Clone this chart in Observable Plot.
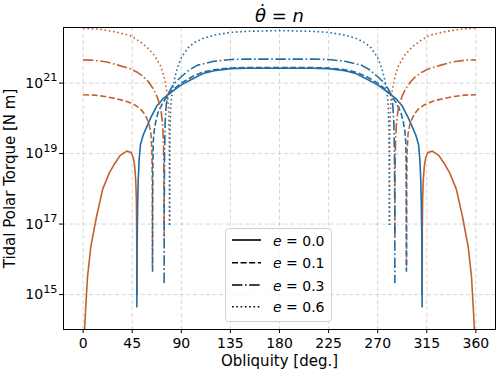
<!DOCTYPE html>
<html><head><meta charset="utf-8">
<script src="https://cdn.jsdelivr.net/npm/d3@7"></script>
<script src="https://cdn.jsdelivr.net/npm/@observablehq/plot@0.6"></script>
<style>
body{margin:0;background:#fff;font-family:"DejaVu Sans",sans-serif;}
#wrap{position:relative;width:498px;height:374px;overflow:hidden;}
#legend{position:absolute;left:225px;top:228px;}
</style></head><body><div id="wrap"></div>
<script>
// Eccentricities shown
const eValues = [0.0, 0.1, 0.3, 0.6];
const eLabels = ["0.0", "0.1", "0.3", "0.6"];

// Tick values
const xTicks = [0, 45, 90, 135, 180, 225, 270, 315, 360];
const yTickExponents = [15, 17, 19, 21];

// Curves: [obliquity (deg), log10 |torque| (N m)]
// Negative torque branches (orange)
const neg_e00_left = [[0.8,13.3],[1.3,14.0],[2.5,14.7],[4,15.5],[7,16.35],[12.2,17.2],[18,18.0],[24,18.45],[29,18.72],[34,18.95],[40,19.07],[44,19.03],[46,18.88],[47.2,18.65],[48.2,18.25],[48.8,17.7],[49.1,16.8],[49.2,15.0]];
const neg_e00_right = [[310.8,15.0],[310.9,16.8],[311.2,17.7],[311.8,18.25],[312.8,18.65],[314,18.88],[316,19.03],[320,19.07],[326,18.95],[331,18.72],[336,18.45],[342,18.0],[347.8,17.2],[353,16.35],[356,15.5],[357.5,14.7],[358.7,14.0],[359.2,13.3]];
const neg_e01_left = [[0,20.67],[10,20.66],[20,20.62],[30,20.56],[38,20.5],[43,20.44],[48,20.37],[52.4,20.27],[56,20.14],[58.5,19.99],[60.5,19.82],[62.2,19.55],[63,19.1],[63.4,18.2],[63.55,15.8]];
const neg_e01_right = [[296.45,15.8],[296.6,18.2],[297,19.1],[297.8,19.55],[299.5,19.82],[301.5,19.99],[304,20.14],[307.6,20.27],[312,20.37],[317,20.44],[322,20.5],[330,20.56],[340,20.62],[350,20.66],[360,20.67]];
const neg_e03_left = [[0,21.66],[10,21.65],[21.7,21.6],[32,21.51],[43,21.41],[50,21.3],[55.5,21.18],[60,21.03],[64.5,20.83],[67.5,20.64],[69.5,20.46],[71.5,20.2],[72.8,19.85],[73.7,19.3],[74.1,18.3],[74.2,16.64]];
const neg_e03_right = [[285.8,16.64],[285.9,18.3],[286.3,19.3],[287.2,19.85],[288.5,20.2],[290.5,20.46],[292.5,20.64],[295.5,20.83],[300,21.03],[304.5,21.18],[310,21.3],[317,21.41],[328,21.51],[338.3,21.6],[350,21.65],[360,21.66]];
const neg_e06_left = [[0,22.56],[15,22.53],[30,22.45],[43,22.35],[52,22.18],[58.5,22.02],[65,21.8],[70.8,21.5],[74,21.2],[75.8,20.95],[77.5,20.6],[78.4,20.2],[78.9,19.5],[79.15,18.3],[79.2,16.97]];
const neg_e06_right = [[280.8,16.97],[280.85,18.3],[281.1,19.5],[281.6,20.2],[282.5,20.6],[284.2,20.95],[286,21.2],[289.2,21.5],[295,21.8],[301.5,22.02],[308,22.18],[317,22.35],[330,22.45],[345,22.53],[360,22.56]];

// Positive torque branches (blue)
const pos_e00 = [[49.25,14.65],[49.5,16.5],[50,17.6],[50.5,18.25],[51.3,18.8],[52.5,19.25],[55,19.52],[57.5,19.7],[62,20.02],[67.5,20.35],[73,20.55],[80,20.72],[90,20.95],[101,21.13],[110,21.27],[120,21.35],[135,21.41],[150,21.42],[180,21.42],[210,21.42],[225,21.41],[240,21.35],[250,21.27],[259,21.13],[270,20.95],[280,20.72],[287,20.55],[292.5,20.35],[298,20.02],[302.5,19.7],[305,19.52],[307.5,19.25],[308.7,18.8],[309.5,18.25],[310,17.6],[310.5,16.5],[310.75,14.65]];
const pos_e01 = [[63.65,15.65],[63.75,17.5],[63.9,18.6],[64.2,19.3],[65,19.62],[66.5,19.9],[68.8,20.18],[73.4,20.46],[78,20.66],[82.5,20.82],[90,21.0],[101,21.2],[110,21.31],[120,21.38],[135,21.43],[150,21.44],[180,21.44],[210,21.44],[225,21.43],[240,21.38],[250,21.31],[259,21.2],[270,21.0],[277.5,20.82],[282,20.66],[286.6,20.46],[291.2,20.18],[293.5,19.9],[295,19.62],[295.8,19.3],[296.1,18.6],[296.25,17.5],[296.35,15.65]];
const pos_e03 = [[74.25,15.33],[74.35,17.5],[74.6,19.0],[75.2,19.9],[76.2,20.4],[78,20.7],[83,20.98],[90,21.18],[97,21.37],[105,21.51],[120,21.62],[135,21.67],[150,21.68],[180,21.68],[210,21.68],[225,21.67],[240,21.62],[255,21.51],[263,21.37],[270,21.18],[277,20.98],[282,20.7],[283.8,20.4],[284.8,19.9],[285.4,19.0],[285.65,17.5],[285.75,15.33]];
const pos_e06 = [[79.25,16.97],[79.35,18.5],[79.6,19.6],[80.2,20.3],[81.5,20.75],[83,21.03],[86,21.4],[90,21.72],[96,22.0],[102,22.15],[110,22.27],[120,22.36],[135,22.44],[150,22.47],[180,22.49],[210,22.47],[225,22.44],[240,22.36],[250,22.27],[258,22.15],[264,22.0],[270,21.72],[274,21.4],[277,21.03],[278.5,20.75],[279.8,20.3],[280.4,19.6],[280.65,18.5],[280.75,16.97]];

const orange = "#c4602b";
const blue = "#1f6ca6";
const dashes = [null, "6,2.6", "10.4,2.6,1.6,2.6", "1.6,2.7"];

const groups = [
  {e: 0, neg: [neg_e00_left, neg_e00_right], pos: pos_e00},
  {e: 1, neg: [neg_e01_left, neg_e01_right], pos: pos_e01},
  {e: 2, neg: [neg_e03_left, neg_e03_right], pos: pos_e03},
  {e: 3, neg: [neg_e06_left, neg_e06_right], pos: pos_e06}
];

const toRows = arr => arr.map(([x, p]) => ({x, y: Math.pow(10, p)}));

const lineMarks = [];
for (const g of groups) {
  const common = {x: "x", y: "y", strokeWidth: 1.6, clip: true,
    strokeDasharray: dashes[g.e] || undefined,
    strokeLinecap: dashes[g.e] ? "butt" : "round", strokeLinejoin: "round"};
  for (const piece of g.neg) lineMarks.push(Plot.line(toRows(piece), {...common, stroke: orange}));
  lineMarks.push(Plot.line(toRows(g.pos), {...common, stroke: blue}));
}

const yTicks = yTickExponents.map(p => Math.pow(10, p));

const chart = Plot.plot({
  width: 498, height: 374,
  marginLeft: 63, marginRight: 3, marginTop: 27, marginBottom: 45,
  style: {fontFamily: "'DejaVu Sans', sans-serif", fontSize: "14px", background: "#fff", color: "#000"},
  x: {domain: [-18, 378]},
  y: {type: "log", domain: [Math.pow(10, 14.008), Math.pow(10, 22.578)]},
  marks: [
    Plot.gridX(xTicks, {stroke: "#b0b0b0", strokeOpacity: 0.5, strokeDasharray: "4,2.5", strokeWidth: 1}),
    Plot.gridY(yTicks, {stroke: "#b0b0b0", strokeOpacity: 0.5, strokeDasharray: "4,2.5", strokeWidth: 1}),
    ...lineMarks,
    Plot.frame({stroke: "#000", strokeWidth: 1}),
    Plot.axisX(xTicks, {label: null, tickSize: 4, tickPadding: 5, fontSize: 14}),
    Plot.axisY(yTicks, {label: null, tickSize: 4, tickPadding: 2, fontSize: 14,
      tickFormat: d => "E" + Math.round(Math.log10(d))}),
    Plot.text(["θ̇ = n"], {frameAnchor: "top", dy: -6, lineAnchor: "bottom", fontSize: 18, fontStyle: "italic"}),
    Plot.text(["Obliquity [deg.]"], {frameAnchor: "bottom", dy: 36, lineAnchor: "bottom", fontSize: 15}),
    Plot.text(["Tidal Polar Torque [N m]"], {frameAnchor: "left", dx: -49, rotate: -90, textAnchor: "middle", lineAnchor: "bottom", fontSize: 15})
  ]
});
const wrap = document.getElementById("wrap");
wrap.appendChild(chart);

// Render y tick labels as 10 with a raised exponent
chart.querySelectorAll("text").forEach(t => {
  const m = /^E(\d+)$/.exec(t.textContent);
  if (m) {
    t.textContent = "";
    t.appendChild(document.createTextNode("10"));
    const ts = document.createElementNS("http://www.w3.org/2000/svg", "tspan");
    ts.setAttribute("font-size", "11.3");
    ts.setAttribute("dy", "-6.5");
    ts.textContent = m[1];
    t.appendChild(ts);
  }
});

// Legend
const rowY = [12, 34.7, 57, 78.7];
let leg = `<svg width="108" height="95" xmlns="http://www.w3.org/2000/svg" style="font-family:'DejaVu Sans',sans-serif;font-size:14px">
<rect x="0.5" y="0.5" width="106" height="93" rx="3" fill="#fff" fill-opacity="0.8" stroke="#d0d0d0"/>`;
eValues.forEach((e, i) => {
  const da = dashes[i] ? `stroke-dasharray="${dashes[i]}"` : "";
  leg += `<line x1="7" x2="36" y1="${rowY[i]}" y2="${rowY[i]}" stroke="#000" stroke-width="1.6" ${da}/>`;
  leg += `<text x="48" y="${rowY[i] + 5.5}"><tspan font-style="italic">e</tspan> = ${eLabels[i]}</text>`;
});
leg += `</svg>`;
const ld = document.createElement("div");
ld.id = "legend";
ld.innerHTML = leg;
wrap.appendChild(ld);
</script></body></html>
